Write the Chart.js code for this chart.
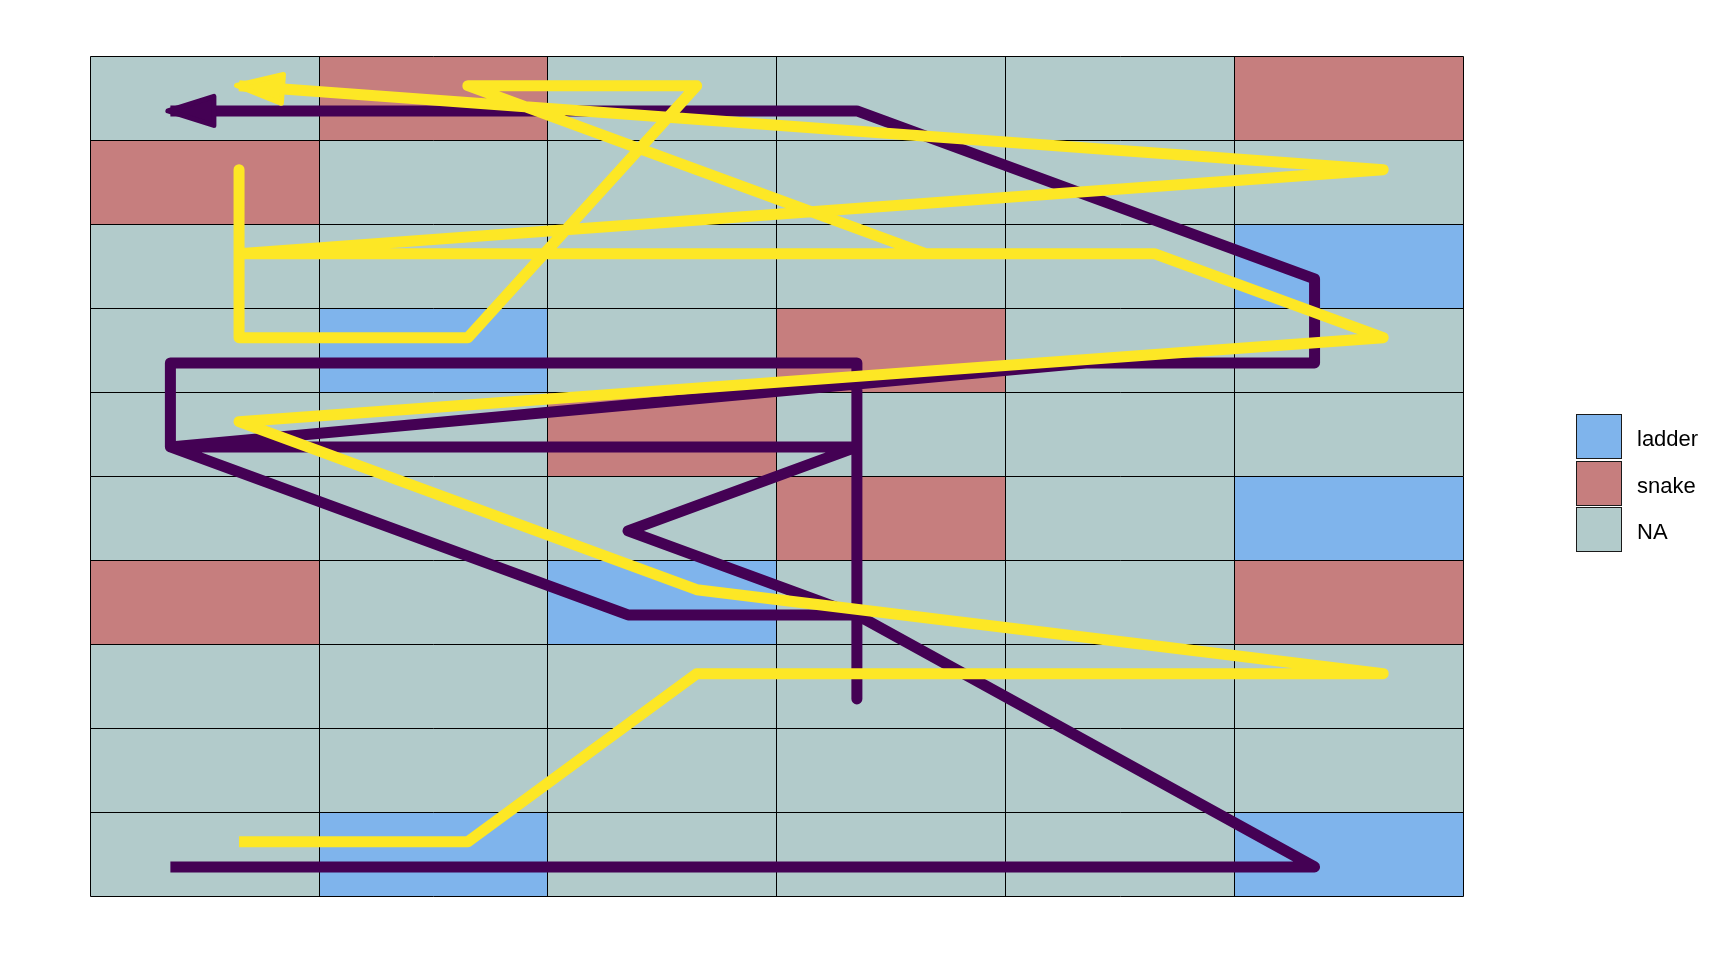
<!DOCTYPE html>
<html>
<head>
<meta charset="utf-8">
<script src="https://cdn.jsdelivr.net/npm/chart.js@4.4.0/dist/chart.umd.min.js"></script>
<style>
  html, body { margin: 0; padding: 0; background: #fff; }
  #wrap { position: relative; width: 1728px; height: 960px; }
  #legend { position: absolute; left: 1576px; top: 414px; font-family: "Liberation Sans", Arial, sans-serif; font-size: 22px; color: #000; }
  .item { position: absolute; left: 0; width: 150px; height: 45px; white-space: nowrap; }
  .key { position: absolute; left: 0; top: 0; width: 46px; height: 45px; box-sizing: border-box; border: 1px solid #1a1a1a; }
  .lab { position: absolute; left: 61px; top: 2px; line-height: 45px; }
</style>
</head>
<body>
<div id="wrap">
  <canvas id="board"></canvas>
  <div id="legend"></div>
</div>
<script>
// board size and special tiles, as [column, row]
const boardCols = 6;
const boardRows = 10;
const ladderCells = [[2, 1], [6, 1], [3, 4], [6, 5], [2, 7], [6, 8]];
const snakeCells = [[1, 4], [6, 4], [4, 5], [3, 6], [4, 7], [1, 9], [2, 10], [6, 10]];

// the two players' moves, as [column, row]
const purpleMoves = [[1, 1], [6, 1], [4, 4], [3, 4], [1, 6], [4, 6], [3, 5], [4, 4], [4, 3],
                     [4, 7], [1, 7], [1, 6], [5, 7], [6, 7], [6, 8], [4, 10], [1, 10]];
const yellowMoves = [[1, 1], [2, 1], [3, 3], [6, 3], [3, 4], [1, 6], [6, 7], [5, 8], [1, 8],
                     [1, 9], [1, 7], [2, 7], [3, 10], [2, 10], [4, 8], [1, 8], [6, 9], [1, 10]];

const legendLabels = ['ladder', 'snake', 'NA'];
const tileColors = { ladder: '#7fb4ec', snake: '#c67e7e', NA: '#b2cbcb' };

const purpleShift = -0.15;
const yellowShift = 0.15;

function cellType(c, r) {
    if (ladderCells.some(([a, b]) => a === c && b === r)) return 'ladder';
    if (snakeCells.some(([a, b]) => a === c && b === r)) return 'snake';
    return 'NA';
}

// tiles and grid lines under the paths
const boardPlugin = {
    id: 'board',
    beforeDatasetsDraw(chart) {
        const { ctx, scales: { x, y } } = chart;
        ctx.save();
        for (let c = 1; c <= boardCols; c++) {
            for (let r = 1; r <= boardRows; r++) {
                const left = x.getPixelForValue(c - 0.5);
                const right = x.getPixelForValue(c + 0.5);
                const top = y.getPixelForValue(r + 0.5);
                const bottom = y.getPixelForValue(r - 0.5);
                ctx.fillStyle = tileColors[cellType(c, r)];
                ctx.fillRect(left, top, right - left, bottom - top);
            }
        }
        const x0 = Math.floor(x.getPixelForValue(0.5)) + 0.5;
        const x1 = Math.floor(x.getPixelForValue(boardCols + 0.5)) + 0.5;
        const y0 = Math.floor(y.getPixelForValue(boardRows + 0.5)) + 0.5;
        const y1 = Math.floor(y.getPixelForValue(0.5)) + 0.5;
        ctx.strokeStyle = '#000';
        ctx.lineWidth = 1;
        ctx.beginPath();
        for (let c = 0; c <= boardCols; c++) {
            const px = Math.floor(x.getPixelForValue(c + 0.5)) + 0.5;
            ctx.moveTo(px, y0);
            ctx.lineTo(px, y1);
        }
        for (let r = 0; r <= boardRows; r++) {
            const py = Math.floor(y.getPixelForValue(r + 0.5)) + 0.5;
            ctx.moveTo(x0, py);
            ctx.lineTo(x1, py);
        }
        ctx.stroke();
        ctx.restore();
    },
    // arrow head at the end of each path
    afterDatasetDraw(chart, args) {
        const pts = args.meta.data;
        const n = pts.length;
        if (n < 2) return;
        const p = pts[n - 1], q = pts[n - 2];
        const dx = p.x - q.x, dy = p.y - q.y;
        const len = Math.hypot(dx, dy);
        const ux = dx / len, uy = dy / len;
        const nx = -uy, ny = ux;
        const ctx = chart.ctx;
        const col = chart.data.datasets[args.index].borderColor;
        ctx.save();
        ctx.fillStyle = col;
        ctx.strokeStyle = col;
        ctx.lineWidth = 5;
        ctx.lineJoin = 'round';
        ctx.beginPath();
        ctx.moveTo(p.x + ux * 2.5, p.y + uy * 2.5);
        ctx.lineTo(p.x - ux * 43.5 + nx * 14.5, p.y - uy * 43.5 + ny * 14.5);
        ctx.lineTo(p.x - ux * 43.5 - nx * 14.5, p.y - uy * 43.5 - ny * 14.5);
        ctx.closePath();
        ctx.fill();
        ctx.stroke();
        ctx.restore();
    }
};

const toPoints = (moves, shift) => moves.map(([c, r]) => ({ x: c + shift, y: r + shift }));

const pathStyle = {
    showLine: true,
    pointRadius: 0,
    pointHoverRadius: 0,
    borderWidth: 11,
    borderJoinStyle: 'round',
    borderCapStyle: 'butt',
    tension: 0,
    clip: false
};

new Chart(document.getElementById('board'), {
    type: 'scatter',
    data: {
        datasets: [
            { ...pathStyle, label: 'player 1', data: toPoints(purpleMoves, purpleShift), borderColor: '#440154', backgroundColor: '#440154', order: 1 },
            { ...pathStyle, label: 'player 2', data: toPoints(yellowMoves, yellowShift), borderColor: '#fde725', backgroundColor: '#fde725', order: 0 }
        ]
    },
    options: {
        responsive: true,
        maintainAspectRatio: false,
        animation: false,
        events: [],
        layout: { padding: { left: 90.3, top: 56.3, right: 264.7, bottom: 63.7 } },
        scales: {
            x: { type: 'linear', min: 0.5, max: boardCols + 0.5, display: false },
            y: { type: 'linear', min: 0.5, max: boardRows + 0.5, display: false }
        },
        plugins: {
            legend: { display: false },
            tooltip: { enabled: false }
        }
    },
    plugins: [boardPlugin]
});

// legend keys for the tile types
const legendDiv = document.getElementById('legend');
legendLabels.forEach((name, i) => {
    const item = document.createElement('div');
    item.className = 'item';
    item.style.top = (i * 46.5) + 'px';
    const key = document.createElement('div');
    key.className = 'key';
    key.style.background = tileColors[name];
    const lab = document.createElement('div');
    lab.className = 'lab';
    lab.textContent = name;
    item.appendChild(key);
    item.appendChild(lab);
    legendDiv.appendChild(item);
});
</script>
</body>
</html>
